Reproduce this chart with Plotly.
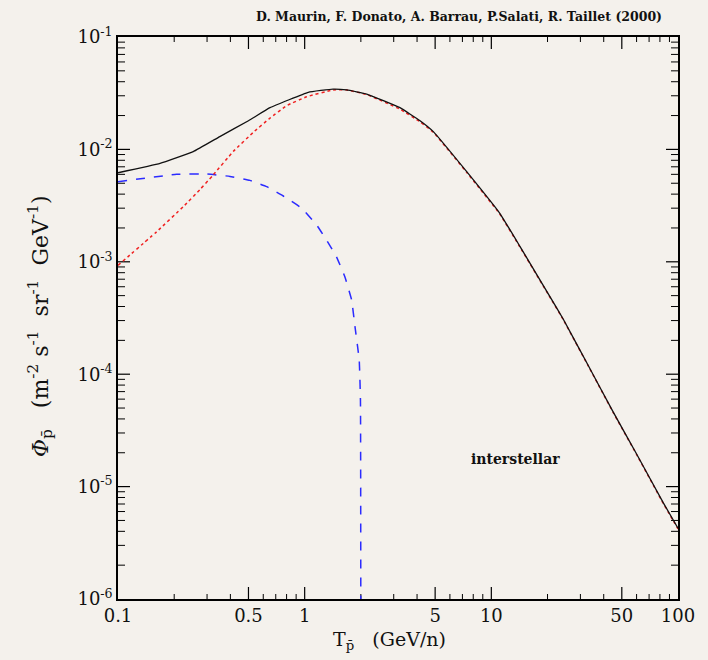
import plotly.graph_objects as go

# Antiproton flux components vs kinetic energy per nucleon
t_total = [0.1, 0.168, 0.253, 0.351, 0.5, 0.652, 1.046, 1.42, 1.68, 2.15,
           3.24, 4.15, 4.89, 7.38, 11.1, 14.2, 20.6, 24.3, 33.0, 45.0, 60.0, 83.3, 100.0]
phi_total = [6.2e-3, 7.5e-3, 9.55e-3, 1.30e-2, 1.8e-2, 2.35e-2, 3.22e-2,
             3.44e-2, 3.38e-2, 3.11e-2, 2.35e-2, 1.80e-2, 1.44e-2, 6.34e-3, 2.70e-3,
             1.38e-3, 4.9e-4, 3.08e-4, 1.2e-4, 4.6e-5, 1.95e-5, 7.2e-6, 4.26e-6]

t_secondary = [0.1, 0.161, 0.224, 0.275, 0.32, 0.415, 0.531, 0.652, 0.80, 1.025, 1.42,
               1.68, 2.15, 3.24, 4.15, 4.89, 7.38, 11.1, 14.2, 20.6, 24.3, 33.0, 45.0,
               60.0, 83.3, 100.0]
phi_secondary = [9.3e-4, 1.85e-3, 3.1e-3, 4.4e-3, 5.8e-3, 9.6e-3, 1.42e-2, 1.9e-2,
                 2.45e-2, 2.94e-2, 3.38e-2, 3.38e-2, 3.08e-2, 2.28e-2, 1.76e-2, 1.42e-2,
                 6.25e-3, 2.66e-3, 1.36e-3, 4.85e-4, 3.05e-4, 1.19e-4, 4.55e-5, 1.93e-5,
                 7.1e-6, 4.2e-6]

t_primary = [0.1, 0.206, 0.3, 0.398, 0.509, 0.626, 0.768, 0.964, 1.16, 1.31,
             1.48, 1.64, 1.785, 1.86, 1.96, 1.99, 2.0]
phi_primary = [5.16e-3, 6.0e-3, 6.04e-3, 5.75e-3, 5.3e-3, 4.66e-3, 3.85e-3,
               3.0e-3, 2.12e-3, 1.56e-3, 1.11e-3, 7.4e-4, 4.57e-4, 2.65e-4, 1.34e-4,
               5.9e-5, 1e-7]

x_tickvals = [0.1, 0.5, 1, 5, 10, 50, 100]
x_ticktext = ["0.1", "0.5", "1", "5", "10", "50", "100"]
x_minor = [k * 10.0 ** e for e in (-1, 0, 1) for k in (2, 3, 4, 6, 7, 8, 9)]
y_exponents = [-6, -5, -4, -3, -2, -1]
y_major = [10.0 ** e for e in y_exponents]
y_minor = [k * 10.0 ** e for e in (-6, -5, -4, -3, -2) for k in range(2, 10)]

BG = "#f4f1ec"
SERIF = "DejaVu Serif"
X_RANGE = [-1, 2]
Y_RANGE = [-6, -1]
WIDTH, HEIGHT = 708, 660
MARGIN = dict(l=118, r=30, t=37, b=61)
PLOT_W = WIDTH - MARGIN["l"] - MARGIN["r"]
PLOT_H = HEIGHT - MARGIN["t"] - MARGIN["b"]
PX_PER_DEC_X = PLOT_W / (X_RANGE[1] - X_RANGE[0])
PX_PER_DEC_Y = PLOT_H / (Y_RANGE[1] - Y_RANGE[0])


# Inside tick marks on all four sides of the frame, drawn as short line segments
def x_tick_marks(vals, length_px):
    xs, ys = [], []
    lo, hi = 10.0 ** Y_RANGE[0], 10.0 ** Y_RANGE[1]
    f = 10.0 ** (length_px / PX_PER_DEC_Y)
    for v in vals:
        if v <= 10.0 ** X_RANGE[0] or v >= 10.0 ** X_RANGE[1]:
            continue
        xs += [v, v, None, v, v, None]
        ys += [lo, lo * f, None, hi, hi / f, None]
    return xs, ys


def y_tick_marks(vals, length_px):
    xs, ys = [], []
    lo, hi = 10.0 ** X_RANGE[0], 10.0 ** X_RANGE[1]
    f = 10.0 ** (length_px / PX_PER_DEC_X)
    for v in vals:
        if v <= 10.0 ** Y_RANGE[0] or v >= 10.0 ** Y_RANGE[1]:
            continue
        xs += [lo, lo * f, None, hi, hi / f, None]
        ys += [v, v, None, v, v, None]
    return xs, ys


fig = go.Figure()
for (xs, ys), w in ((x_tick_marks(x_tickvals, 12), 1.2), (x_tick_marks(x_minor, 5), 1.0),
                    (y_tick_marks(y_major, 12), 1.2), (y_tick_marks(y_minor, 7), 1.0)):
    fig.add_trace(go.Scatter(x=xs, y=ys, mode="lines", connectgaps=False,
                             line=dict(color="black", width=w), hoverinfo="skip"))

fig.add_trace(go.Scatter(x=t_primary, y=phi_primary, mode="lines",
                         line=dict(color="#2b2bff", width=1.5, dash="dash"),
                         line_shape="spline", line_smoothing=0.3))
fig.add_trace(go.Scatter(x=t_secondary, y=phi_secondary, mode="lines",
                         line=dict(color="#f02020", width=1.5, dash="dot"),
                         line_shape="spline", line_smoothing=0.3))
fig.add_trace(go.Scatter(x=t_total, y=phi_total, mode="lines",
                         line=dict(color="#111111", width=1.3),
                         line_shape="spline", line_smoothing=0.3))

fig.update_layout(
    xaxis=dict(type="log", range=X_RANGE, tickmode="array", tickvals=x_tickvals,
               ticktext=x_ticktext, ticks="", showline=True, linecolor="black",
               linewidth=1.5, mirror=True, showgrid=False, zeroline=False,
               tickfont=dict(family=SERIF, size=18, color="#111")),
    yaxis=dict(type="log", range=Y_RANGE, tickmode="array", tickvals=y_major,
               ticktext=[f"10<sup>{e}</sup>" for e in y_exponents], ticks="",
               showline=True, linecolor="black", linewidth=1.5, mirror=True,
               showgrid=False, zeroline=False,
               tickfont=dict(family=SERIF, size=18, color="#111")),
)

NB = "\u00a0"
fig.add_annotation(xref="paper", yref="paper", x=0.975, y=1.036, xanchor="right",
                   yanchor="middle", showarrow=False,
                   text="<b>D. Maurin, F. Donato, A. Barrau, P.Salati, R. Taillet (2000)</b>",
                   font=dict(family=SERIF, size=12.5, color="#111"))
fig.add_annotation(xref="paper", yref="paper", x=0.709, y=0.249, xanchor="center",
                   yanchor="middle", showarrow=False, text="<b>interstellar</b>",
                   font=dict(family=SERIF, size=14, color="#111"))
fig.add_annotation(xref="paper", yref="paper", x=0.484, y=-0.073, xanchor="center",
                   yanchor="middle", showarrow=False,
                   text=f"T<sub>p\u0304</sub>{NB}{NB}{NB}(GeV/n)",
                   font=dict(family=SERIF, size=19, color="#111"))
fig.add_annotation(xref="paper", yref="paper", x=-0.139, y=0.486, xanchor="center",
                   yanchor="middle", showarrow=False, textangle=-90,
                   text=(f"<i>Φ</i><sub>p\u0304</sub>{NB}{NB}{NB}(m<sup>-2</sup>{NB}s<sup>-1</sup>"
                         f"{NB}{NB}sr<sup>-1</sup>{NB}{NB}GeV<sup>-1</sup>)"),
                   font=dict(family=SERIF, size=22, color="#111"))

fig.update_layout(width=WIDTH, height=HEIGHT, margin=MARGIN,
                  paper_bgcolor=BG, plot_bgcolor=BG, showlegend=False)

fig.write_html("out.html")
